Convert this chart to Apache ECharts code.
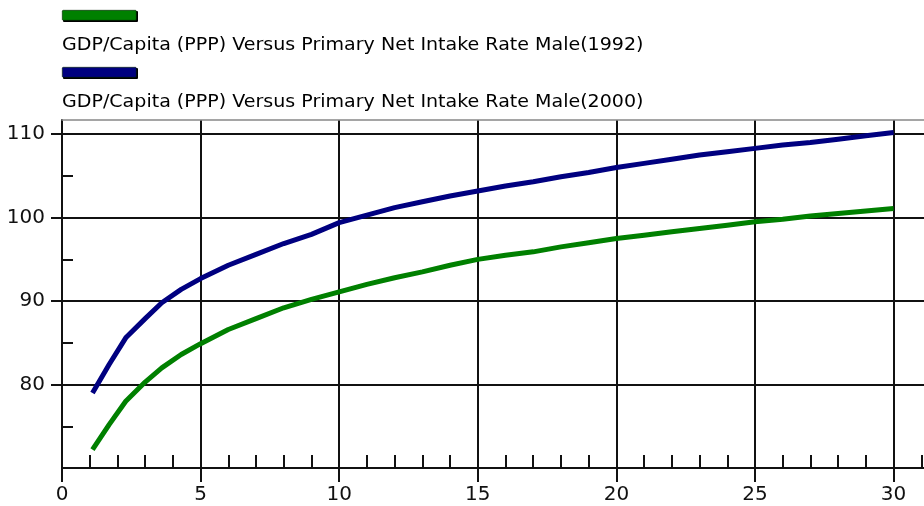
<!DOCTYPE html>
<html><head><meta charset="utf-8">
<script src="https://cdn.jsdelivr.net/npm/echarts@6/dist/echarts.min.js"></script>
<style>html,body{margin:0;padding:0;background:#fff}#c{width:924px;height:506px}</style>
</head><body><div id="c"></div>
<script>
const seriesNames = [
  'GDP/Capita (PPP) Versus Primary Net Intake Rate Male(1992)',
  'GDP/Capita (PPP) Versus Primary Net Intake Rate Male(2000)'
];
const seriesColors = ['#008000', '#000080'];
const xValues = [1.1, 1.7, 2.3, 3.0, 3.6, 4.3, 5, 6, 7, 8, 9, 10, 11, 12, 13, 14, 15, 16, 17, 18, 19, 20, 21, 22, 23, 24, 25, 26, 27, 28, 29, 30];
const values1992 = [72.2, 75.2, 78.0, 80.3, 82.0, 83.6, 84.9, 86.6, 87.9, 89.2, 90.2, 91.1, 92.0, 92.8, 93.5, 94.3, 95.0, 95.5, 95.9, 96.5, 97.0, 97.5, 97.9, 98.3, 98.7, 99.1, 99.5, 99.8, 100.2, 100.5, 100.8, 101.1];
const values2000 = [79.0, 82.4, 85.6, 87.9, 89.8, 91.4, 92.7, 94.3, 95.6, 96.9, 98.0, 99.4, 100.3, 101.2, 101.9, 102.6, 103.2, 103.8, 104.3, 104.9, 105.4, 106.0, 106.5, 107.0, 107.5, 107.9, 108.3, 108.7, 109.0, 109.4, 109.8, 110.2];
const xTickValues = [0, 5, 10, 15, 20, 25, 30];
const xMinorTickValues = [1,2,3,4,6,7,8,9,11,12,13,14,16,17,18,19,21,22,23,24,26,27,28,29,31];
const yTickValues = [80, 90, 100, 110];
const yMinorTickValues = [75, 85, 95, 105];

const FONT = '"DejaVu Sans", Verdana, sans-serif';
const chart = echarts.init(document.getElementById('c'), null, {renderer: 'canvas'});

const legendGraphics = [];
seriesNames.forEach((n, i) => {
  const y0 = 10 + 57 * i;
  legendGraphics.push({type: 'rect', left: 63, top: y0 + 1, shape: {width: 75, height: 11, r: 1}, style: {fill: '#000'}});
  legendGraphics.push({type: 'rect', left: 62, top: y0, shape: {width: 74, height: 10, r: 1}, style: {fill: seriesColors[i], stroke: '#002000', lineWidth: 0.6}});
  legendGraphics.push({type: 'text', x: 62, y: y0 + 35, scaleX: 1.058, originX: 0, originY: 0,
    style: {text: n, font: '18px ' + FONT, fill: '#000', verticalAlign: 'middle', align: 'left'}});
});

const xMin = 0, xMax = 32, yMin = 70, yMax = 111.7;
const lineStyleDark = {color: '#111', width: 2};
const onlyIn = (list) => (v) => (list.indexOf(Math.round(Number(v) * 1000) / 1000) >= 0 ? String(v) : '');
const noLabel = {show: false, color: 'rgba(0,0,0,0)', formatter: () => ''};

chart.setOption({
  animation: false,
  backgroundColor: '#fff',
  graphic: legendGraphics,
  grid: {left: 62, top: 120, right: -25, bottom: 38, show: false, containLabel: false, outerBoundsMode: 'none'},
  xAxis: [
    {type: 'value', min: xMin, max: xMax, position: 'bottom',
     axisLine: {show: true, onZero: false, lineStyle: lineStyleDark},
     axisTick: {show: true, inside: false, length: 14, customValues: xTickValues, lineStyle: lineStyleDark},
     axisLabel: {show: true, customValues: xTickValues, formatter: onlyIn(xTickValues), margin: 17, color: '#111', fontSize: 20, fontFamily: FONT},
     splitLine: {show: true, lineStyle: lineStyleDark}},
    {type: 'value', min: xMin, max: xMax, position: 'bottom',
     axisLine: {show: false},
     axisTick: {show: true, inside: true, length: 13, customValues: xMinorTickValues, lineStyle: lineStyleDark},
     axisLabel: noLabel, splitLine: {show: false}},
    {type: 'value', min: xMin, max: xMax, position: 'top',
     axisLine: {show: true, onZero: false, lineStyle: {color: '#888', width: 1.5}},
     axisTick: {show: false}, axisLabel: noLabel, splitLine: {show: false}}
  ],
  yAxis: [
    {type: 'value', min: yMin, max: yMax, position: 'left',
     axisLine: {show: true, onZero: false, lineStyle: lineStyleDark},
     axisTick: {show: true, inside: false, length: 11, customValues: yTickValues, lineStyle: lineStyleDark},
     axisLabel: {show: true, customValues: yTickValues, formatter: onlyIn(yTickValues), margin: 17, color: '#111', fontSize: 20, fontFamily: FONT},
     splitLine: {show: true, lineStyle: lineStyleDark}},
    {type: 'value', min: yMin, max: yMax, position: 'left', offset: 0,
     axisLine: {show: false},
     axisTick: {show: true, inside: true, length: 11, customValues: yMinorTickValues, lineStyle: lineStyleDark},
     axisLabel: noLabel, splitLine: {show: false}}
  ],
  series: [
    {name: seriesNames[0], type: 'line', xAxisIndex: 0, yAxisIndex: 0, showSymbol: false, symbol: 'none',
     lineStyle: {color: seriesColors[0], width: 5}, itemStyle: {color: seriesColors[0]},
     data: xValues.map((x, i) => [x, values1992[i]])},
    {name: seriesNames[1], type: 'line', xAxisIndex: 0, yAxisIndex: 0, showSymbol: false, symbol: 'none',
     lineStyle: {color: seriesColors[1], width: 5}, itemStyle: {color: seriesColors[1]},
     data: xValues.map((x, i) => [x, values2000[i]])}
  ]
});
</script></body></html>
